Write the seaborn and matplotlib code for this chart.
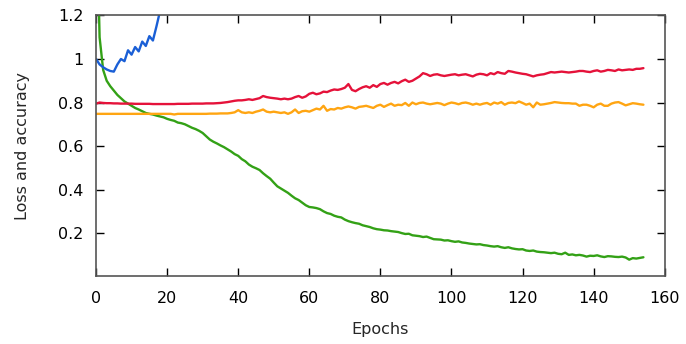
import numpy as np
import pandas as pd
import matplotlib
matplotlib.use("Agg")
import matplotlib.pyplot as plt
import seaborn as sns

# values, one per epoch
green_loss = [
    1.80, 1.10, 0.95, 0.90, 0.875, 0.855, 0.835, 0.82, 0.805, 0.795,
    0.785, 0.775, 0.768, 0.76, 0.752, 0.748, 0.745, 0.74, 0.736, 0.732,
    0.725, 0.72, 0.716, 0.708, 0.705, 0.70, 0.692, 0.684, 0.678, 0.67,
    0.66, 0.645, 0.63, 0.62, 0.612, 0.603, 0.595, 0.585, 0.575, 0.563,
    0.555, 0.54, 0.53, 0.515, 0.505, 0.498, 0.49, 0.475, 0.462, 0.45,
    0.432, 0.415, 0.405, 0.395, 0.385, 0.372, 0.36, 0.352, 0.34, 0.328,
    0.32, 0.318, 0.315, 0.31, 0.30, 0.292, 0.288, 0.28, 0.275, 0.272,
    0.262, 0.255, 0.25, 0.246, 0.243, 0.236, 0.232, 0.228, 0.222, 0.218,
    0.216, 0.213, 0.212, 0.209, 0.207, 0.205, 0.20, 0.196, 0.197, 0.19,
    0.188, 0.186, 0.182, 0.184, 0.178, 0.172, 0.171, 0.17, 0.166, 0.167,
    0.163, 0.16, 0.162, 0.157, 0.155, 0.152, 0.15, 0.148, 0.149, 0.145,
    0.143, 0.14, 0.138, 0.14, 0.135, 0.132, 0.135, 0.13, 0.127, 0.125,
    0.126, 0.12, 0.118, 0.12, 0.115, 0.113, 0.112, 0.11, 0.108, 0.11,
    0.105, 0.103, 0.11, 0.10, 0.102, 0.098, 0.10, 0.097, 0.092, 0.096,
    0.095, 0.098, 0.093, 0.09, 0.094, 0.093, 0.091, 0.09, 0.092, 0.088,
    0.078, 0.085, 0.083, 0.086, 0.089,
]

red_acc = [
    0.795, 0.80, 0.798, 0.797, 0.797, 0.796, 0.796, 0.795, 0.795, 0.795,
    0.795, 0.794, 0.794, 0.794, 0.794, 0.794, 0.793, 0.793, 0.793, 0.793,
    0.793, 0.793, 0.793, 0.794, 0.794, 0.794, 0.794, 0.795, 0.795, 0.795,
    0.795, 0.796, 0.796, 0.796, 0.797, 0.798, 0.80, 0.802, 0.805, 0.808,
    0.81, 0.81, 0.812, 0.815, 0.812, 0.816, 0.82, 0.83, 0.825, 0.822,
    0.82, 0.818, 0.815, 0.818, 0.815, 0.818, 0.825, 0.83, 0.822, 0.828,
    0.84, 0.845, 0.838, 0.842, 0.85, 0.848, 0.855, 0.86, 0.858, 0.862,
    0.868, 0.885, 0.858, 0.852, 0.862, 0.87, 0.875, 0.868, 0.88, 0.872,
    0.885, 0.89, 0.882, 0.89, 0.895, 0.888, 0.898, 0.905, 0.895, 0.90,
    0.91, 0.92, 0.935, 0.93, 0.922, 0.928, 0.93, 0.925, 0.922, 0.925,
    0.928, 0.93, 0.925, 0.928, 0.93, 0.925, 0.92, 0.928, 0.932, 0.93,
    0.925, 0.935, 0.93, 0.94, 0.935, 0.932, 0.945, 0.942, 0.938, 0.935,
    0.932, 0.93, 0.925, 0.92, 0.925, 0.928, 0.93, 0.935, 0.94, 0.938,
    0.94, 0.942, 0.94, 0.938, 0.94, 0.942, 0.945, 0.945, 0.942, 0.94,
    0.945, 0.948, 0.942, 0.945, 0.95, 0.948, 0.945, 0.952, 0.948, 0.95,
    0.952, 0.95, 0.955, 0.955, 0.958,
]

orange_acc = [
    0.748, 0.748, 0.748, 0.748, 0.748, 0.748, 0.748, 0.748, 0.748, 0.748,
    0.748, 0.748, 0.748, 0.748, 0.748, 0.748, 0.748, 0.748, 0.748, 0.748,
    0.748, 0.748, 0.745, 0.748, 0.748, 0.748, 0.748, 0.748, 0.748, 0.748,
    0.748, 0.748, 0.749, 0.749, 0.749, 0.750, 0.750, 0.750, 0.752, 0.755,
    0.765, 0.755, 0.752, 0.755, 0.752, 0.758, 0.762, 0.768, 0.758, 0.755,
    0.758, 0.755, 0.752, 0.755, 0.748, 0.755, 0.768, 0.752, 0.76, 0.762,
    0.758, 0.765, 0.772, 0.768, 0.785, 0.762, 0.77, 0.768, 0.775, 0.772,
    0.778, 0.782, 0.778, 0.772, 0.78, 0.782, 0.785, 0.78, 0.775, 0.785,
    0.79, 0.78, 0.788, 0.795, 0.785, 0.79, 0.788, 0.798, 0.785, 0.80,
    0.792, 0.798, 0.80, 0.795, 0.792, 0.795, 0.798, 0.795, 0.788, 0.795,
    0.80, 0.797, 0.792, 0.798, 0.80, 0.796, 0.79, 0.795, 0.79, 0.795,
    0.798, 0.79, 0.80, 0.795, 0.802, 0.79, 0.798, 0.80, 0.797, 0.805,
    0.798, 0.79, 0.795, 0.778, 0.80, 0.79, 0.792, 0.795, 0.798, 0.802,
    0.80, 0.798, 0.797, 0.797, 0.795, 0.795, 0.785, 0.79, 0.79, 0.785,
    0.778, 0.79, 0.795, 0.785, 0.785, 0.795, 0.80, 0.802, 0.795, 0.787,
    0.792, 0.797, 0.795, 0.792, 0.79,
]

blue_loss = [
    1.0, 0.975, 0.962, 0.952, 0.945, 0.942, 0.975, 1.0, 0.99, 1.04,
    1.02, 1.055, 1.035, 1.08, 1.06, 1.105, 1.085, 1.15, 1.22, 1.28,
    1.33, 1.37, 1.42, 1.45, 1.5,
]

x_ticks = [0, 20, 40, 60, 80, 100, 120, 140, 160]
y_ticks = [0.2, 0.4, 0.6, 0.8, 1.0, 1.2]
y_tick_labels = ["0.2", "0.4", "0.6", "0.8", "1", "1.2"]

sns.set_style("ticks")
plt.rcParams["font.family"] = ["DejaVu Sans"]

fig = plt.figure(figsize=(6.86, 3.44), dpi=100)
ax = fig.add_axes([0.14, 0.199, 0.829, 0.756])

series = [
    (green_loss, "#33a116"),
    (red_acc, "#e5123a"),
    (orange_acc, "#ffa512"),
    (blue_loss, "#1a5fd6"),
]
for vals, col in series:
    df = pd.DataFrame({"epoch": np.arange(len(vals)), "value": vals})
    sns.lineplot(data=df, x="epoch", y="value", color=col, linewidth=1.7, ax=ax)

ax.set_xlim(0, 160)
ax.set_ylim(0.005, 1.2)
ax.set_xticks(x_ticks)
ax.set_yticks(y_ticks)
ax.set_yticklabels(y_tick_labels)
ax.set_xlabel("Epochs", fontsize=11.5, labelpad=12)
ax.set_ylabel("Loss and accuracy", fontsize=11.5, labelpad=20)
ax.tick_params(direction="in", length=6, width=1, labelsize=11.5,
               top=True, right=True, colors="black")
ax.tick_params(axis="x", pad=11)
ax.tick_params(axis="y", pad=9)
for side in ax.spines.values():
    side.set_color("#555555")
    side.set_linewidth(1.2)

fig.savefig("out.png", dpi=100)
